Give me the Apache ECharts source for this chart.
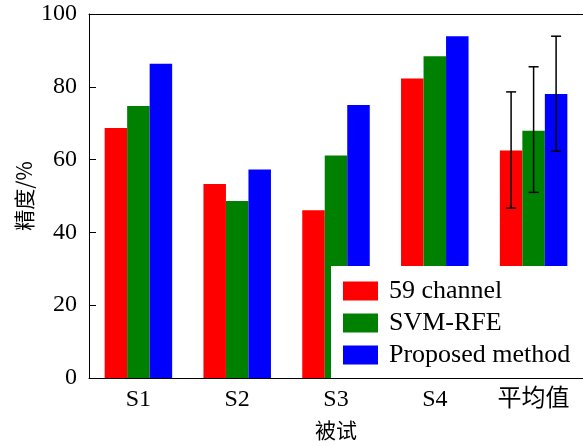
<!DOCTYPE html>
<html>
<head>
<meta charset="utf-8">
<script src="https://cdn.jsdelivr.net/npm/echarts@6/dist/echarts.min.js"></script>
<style>
  html, body { margin: 0; padding: 0; background: #fff; }
  #main { width: 583px; height: 446px; }
</style>
</head>
<body>
<div id="main"></div>
<script>
const categories = ["S1", "S2", "S3", "S4", "平均值"];
const seriesNames = ["59 channel", "SVM-RFE", "Proposed method"];
const channel59 = [68.7, 53.3, 46.1, 82.3, 62.5];
const svmRfe = [74.7, 48.6, 61.1, 88.4, 67.9];
const proposed = [86.3, 57.3, 75.0, 93.9, 78.0];
// error bars only on the average group: [low, high]
const errChannel59 = [46.7, 78.6];
const errSvmRfe = [51.0, 85.5];
const errProposed = [62.3, 93.9];
const yTicks = [0, 20, 40, 60, 80, 100];

const colors = ["#ff0000", "#008000", "#0000ff"];
const barW = 22.5;
const serif = "Liberation Serif, Times New Roman, serif";

const chart = echarts.init(document.getElementById("main"));

const errData = [errChannel59, errSvmRfe, errProposed].map((e, i) => [categories.length - 1, e[0], e[1], i]);

const option = {
  animation: false,
  grid: { left: 89, right: -1, top: 14, bottom: 67 },
  legend: {
    orient: "vertical",
    left: 331,
    top: 266,
    padding: [12, 300, 10, 12],
    backgroundColor: "#fff",
    icon: "rect",
    itemWidth: 35,
    itemHeight: 19,
    itemGap: 6,
    data: seriesNames,
    textStyle: { fontFamily: serif, fontSize: 26, lineHeight: 24, color: "#000", padding: [0, 0, 0, 6] },
    z: 10
  },
  xAxis: [
    {
      type: "category",
      data: categories,
      name: "被试",
      nameLocation: "middle",
      nameGap: 42,
      nameTextStyle: { fontFamily: "Noto Sans CJK SC", fontSize: 21, color: "#000" },
      axisLine: { lineStyle: { color: "#000", width: 1 } },
      axisTick: { show: false },
      axisLabel: { fontFamily: serif + ", Noto Sans CJK SC", fontSize: 24, color: "#000", margin: 10 }
    },
    {
      type: "category",
      position: "top",
      data: categories,
      axisLine: { show: true, lineStyle: { color: "#000", width: 1 } },
      axisTick: { show: false },
      axisLabel: { show: false }
    }
  ],
  yAxis: {
    type: "value",
    min: yTicks[0],
    max: yTicks[yTicks.length - 1],
    interval: 20,
    name: "精度/%",
    nameLocation: "middle",
    nameRotate: 90,
    nameGap: 54,
    nameMoveOverlap: false,
    nameTextStyle: { fontFamily: "Noto Sans CJK SC", fontSize: 21, color: "#000" },
    splitLine: { show: false },
    axisLine: { show: true, lineStyle: { color: "#000", width: 1 } },
    axisTick: { show: true, inside: true, length: 7, lineStyle: { color: "#000" } },
    axisLabel: { fontFamily: serif, fontSize: 24, color: "#000", margin: 12 }
  },
  series: [
    { name: seriesNames[0], type: "bar", data: channel59, barWidth: barW, barGap: "0%", itemStyle: { color: colors[0] } },
    { name: seriesNames[1], type: "bar", data: svmRfe, barWidth: barW, barGap: "0%", itemStyle: { color: colors[1] } },
    { name: seriesNames[2], type: "bar", data: proposed, barWidth: barW, barGap: "0%", itemStyle: { color: colors[2] } },
    {
      type: "custom",
      name: "err",
      data: errData,
      z: 5,
      encode: { x: 0, y: [1, 2] },
      renderItem: function (params, api) {
        const cat = api.value(0);
        const offset = (api.value(3) - 1) * barW;
        const lo = api.coord([cat, api.value(1)]);
        const hi = api.coord([cat, api.value(2)]);
        const x = lo[0] + offset;
        const cap = 5;
        const style = { stroke: "#000", lineWidth: 1.5 };
        return {
          type: "group",
          children: [
            { type: "line", shape: { x1: x, y1: lo[1], x2: x, y2: hi[1] }, style: style },
            { type: "line", shape: { x1: x - cap, y1: lo[1], x2: x + cap, y2: lo[1] }, style: style },
            { type: "line", shape: { x1: x - cap, y1: hi[1], x2: x + cap, y2: hi[1] }, style: style }
          ]
        };
      }
    }
  ]
};

chart.setOption(option);
</script>
</body>
</html>
